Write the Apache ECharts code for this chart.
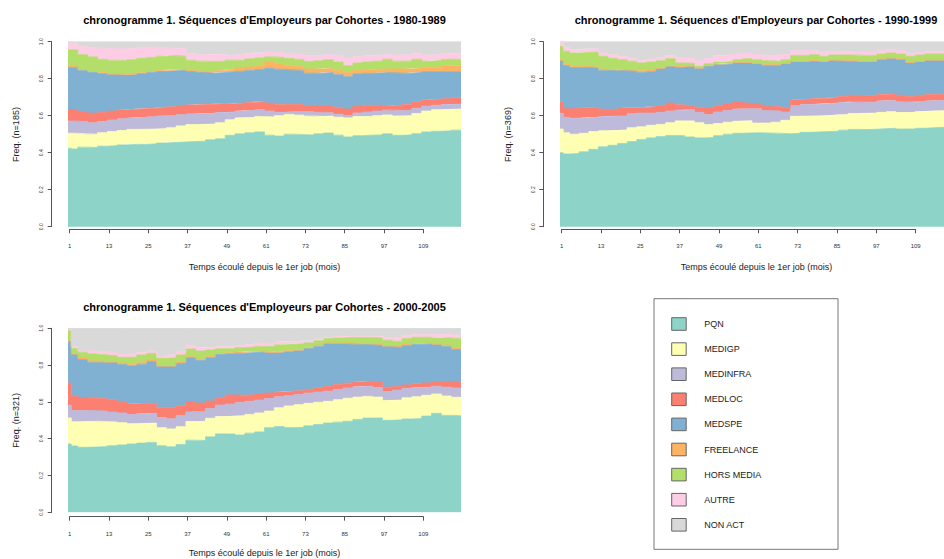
<!DOCTYPE html>
<html><head><meta charset="utf-8">
<script src="https://cdn.jsdelivr.net/npm/echarts@6/dist/echarts.min.js"></script>
<style>html,body{margin:0;padding:0;background:#fff}#c{width:944px;height:559px}</style>
</head><body><div id="c"></div>
<script>
// ---- categories / labels ----
const STATES = ['PQN','MEDIGP','MEDINFRA','MEDLOC','MEDSPE','FREELANCE','HORS MEDIA','AUTRE','NON ACT'];
const COLORS = ['#8DD3C7','#FFFFB3','#BEBADA','#FB8072','#80B1D3','#FDB462','#B3DE69','#FCCDE5','#D9D9D9'];
// first month of each period (periods run until the next start; last one ends at month 120)
const MONTHS = [1,2,4,7,10,13,16,19,22,25,28,31,34,37,40,43,46,49,52,55,58,61,64,67,70,73,76,79,82,85,88,91,94,97,100,103,106,109,112,115,118];
const LAST_MONTH = 120;
const TICK_LABELS = ['1','13','25','37','49','61','73','85','97','109'];
const Y_TICKS = ['0.0','0.2','0.4','0.6','0.8','1.0'];
const COHORTS = ['1980-1989','1990-1999','2000-2005'];
const N_SIZES = [185,369,321];
const X_TITLE = 'Temps écoulé depuis le 1er job (mois)';

// ---- state frequencies (%) per period, cohort 1980-1989 ----
const PQN_1980 = [42.4,42.0,43.0,42.8,43.5,43.8,44.2,44.5,44.5,44.8,45.2,45.5,45.8,46.0,46.2,47.0,47.5,49.4,50.2,50.8,51.2,49.5,49.0,50.0,49.8,49.6,50.2,50.6,49.5,48.5,49.2,49.5,49.6,50.2,49.4,49.6,50.3,51.2,51.6,51.8,52.2];
const MEDIGP_1980 = [8.1,8.5,7.2,7.2,7.3,7.6,7.8,8.1,8.2,7.9,7.8,8.0,8.7,9.2,9.1,8.5,8.7,8.4,8.6,8.2,8.4,9.8,11.0,10.7,10.5,10.2,9.4,9.2,9.7,10.3,10.4,10.1,10.4,10.2,10.4,10.4,10.9,11.3,11.6,11.6,11.4];
const MEDINFRA_1980 = [6.6,6.6,6.6,6.2,6.0,6.3,6.3,6.1,6.3,6.7,6.8,6.5,6.0,5.7,5.7,5.8,5.5,4.2,3.7,3.8,3.6,3.2,1.8,1.3,1.9,2.4,2.2,1.8,1.6,1.2,1.9,2.4,2.5,2.7,3.0,2.8,2.8,2.7,2.4,2.6,2.7];
const MEDLOC_1980 = [6.0,6.0,5.2,5.2,5.0,4.8,4.9,4.8,4.8,4.6,4.5,4.8,4.7,4.9,5.0,4.9,4.8,4.5,4.3,4.4,4.3,4.3,4.2,4.2,3.8,3.2,3.4,3.6,3.7,3.6,3.7,3.6,3.1,2.3,2.8,3.2,3.5,3.4,3.2,3.2,3.4];
const MEDSPE_1980 = [23.1,23.1,22.5,22.1,21.0,19.7,18.8,18.7,19.0,19.5,19.7,19.5,19.4,18.2,17.3,16.8,16.8,17.1,17.2,17.3,17.5,18.8,19.1,18.6,18.5,17.6,17.8,18.1,17.7,17.5,17.3,17.3,17.5,17.9,17.4,17.0,15.8,15.2,15.0,14.6,14.1];
const FREELANCE_1980 = [0.5,0.6,0.4,0.4,0.4,0.3,0.3,0.3,0.4,0.4,0.5,0.5,0.4,0.5,0.8,1.0,1.2,1.2,1.8,1.8,2.0,3.4,3.0,2.2,2.0,2.2,2.2,2.2,2.2,2.2,2.0,2.0,2.0,2.0,2.2,2.2,2.2,2.4,2.4,3.0,3.2];
const HORSMEDIA_1980 = [8.8,8.7,8.1,7.9,7.3,7.5,7.4,7.8,7.8,7.6,7.7,7.7,7.2,5.5,5.4,5.3,5.0,5.2,4.2,4.4,4.2,2.8,3.4,4.0,4.0,4.1,4.5,4.8,4.6,3.7,4.0,4.1,4.4,5.2,4.3,4.3,5.0,3.3,3.6,3.7,3.5];
const AUTRE_1980 = [4.5,3.5,4.5,5.0,6.0,6.2,6.3,6.2,6.0,5.5,4.6,4.0,4.3,3.5,3.5,3.7,3.7,2.5,3.0,3.0,2.8,2.7,2.5,2.5,2.8,3.2,2.8,2.7,3.5,4.0,3.5,3.5,3.3,2.7,3.3,3.5,3.3,3.3,3.2,3.2,3.2];
const NONACT_1980 = [0,1.0,2.5,3.2,3.5,3.8,4.0,3.5,3.0,3.0,3.2,3.5,3.5,6.5,7.0,7.0,6.8,7.5,7.0,6.3,6.0,5.5,6.0,6.5,6.7,7.5,7.5,7.0,7.5,9.0,8.0,7.5,7.2,6.8,7.2,7.0,6.2,7.2,7.0,6.3,6.3];

// ---- cohort 1990-1999 ----
const PQN_1990 = [40.0,39.3,39.6,40.5,41.8,43.2,44.0,45.0,46.0,47.2,48.0,48.7,49.3,49.2,48.5,48.0,48.2,49.2,50.0,50.5,50.7,50.8,50.6,50.5,50.2,50.5,51.0,51.2,51.4,51.6,52.2,52.6,52.5,52.7,53.0,53.2,52.8,52.8,53.2,53.5,53.7];
const MEDIGP_1990 = [12.8,11.5,10.4,10.0,9.6,8.6,8.0,7.3,7.5,6.8,6.8,6.6,6.9,8.0,8.7,8.2,7.0,6.6,6.5,6.5,6.6,5.2,5.4,6.0,7.3,9.2,8.8,8.6,8.6,8.7,8.4,8.6,8.8,8.7,8.8,9.0,8.9,9.0,9.0,9.0,9.0];
const MEDINFRA_1990 = [8.5,8.3,8.6,8.3,7.7,7.7,7.8,7.5,7.5,7.4,6.6,6.5,6.3,5.8,6.0,5.6,5.4,6.2,6.3,6.6,6.5,7.7,6.8,6.0,4.5,5.8,6.2,6.4,6.5,6.5,6.6,6.3,6.0,5.9,6.2,6.0,5.9,5.5,5.4,5.5,5.5];
const MEDLOC_1990 = [6.2,5.0,5.2,5.5,5.4,4.0,3.4,4.3,3.3,3.1,3.4,3.7,4.3,2.9,2.3,2.7,3.5,3.6,3.5,3.8,3.0,2.6,2.4,2.5,2.3,3.1,2.8,3.0,3.0,2.9,3.3,3.5,3.5,3.5,3.4,3.5,3.4,3.2,3.4,3.4,3.4];
const MEDSPE_1990 = [22.1,23.1,22.3,21.8,21.3,21.0,21.1,20.2,19.7,18.9,19.0,19.7,19.7,20.2,21.0,20.9,22.6,22.0,21.6,21.1,21.7,21.6,22.0,22.2,23.6,20.4,20.2,20.2,19.5,20.0,19.0,18.5,18.2,18.2,18.9,19.1,19.3,18.0,18.0,18.3,18.1];
const FREELANCE_1990 = [0.5,0.5,0.5,0.5,0.5,0.6,0.6,0.7,0.8,0.9,0.9,0.7,0.5,0.5,0.4,0.4,0.4,0.4,0.4,0.4,0.4,0.4,0.4,0.4,0.4,0.4,0.4,0.4,0.4,0.4,0.4,0.4,0.4,0.4,0.4,0.4,0.4,0.4,0.4,0.4,0.4];
const HORSMEDIA_1990 = [7.3,7.1,7.3,7.6,8.1,7.0,6.1,5.3,4.7,4.2,4.3,3.8,3.8,1.9,1.4,0.9,1.0,1.0,1.0,1.4,1.9,2.0,2.1,1.8,2.0,3.2,3.2,3.2,2.7,2.7,2.9,2.9,3.2,3.2,2.6,2.7,2.6,3.2,3.4,3.2,3.2];
const AUTRE_1990 = [2.6,2.1,1.8,1.8,1.8,1.8,2.0,1.8,1.5,1.2,1.5,1.8,1.8,3.0,2.9,3.0,2.7,3.6,3.5,3.0,3.1,3.0,2.9,3.2,3.0,2.5,2.5,2.1,2.3,1.8,1.8,1.8,1.8,1.8,1.8,1.8,1.8,1.8,1.6,1.5,1.5];
const NONACT_1990 = [0,3.1,4.3,4.0,3.8,6.1,7.0,7.9,9.0,10.3,9.5,8.5,7.4,8.5,8.8,10.3,9.2,7.4,7.2,6.7,6.1,6.7,7.4,7.4,6.7,4.9,4.9,4.9,5.6,5.4,5.4,5.4,5.6,5.6,4.9,4.3,4.9,6.1,5.6,5.2,5.2];

// ---- cohort 2000-2005 ----
const PQN_2000 = [37.1,36.0,35.3,35.5,35.7,36.2,36.6,37.1,37.6,38.0,36.2,35.6,36.8,39.2,39.0,41.0,42.6,42.5,42.0,43.0,43.7,46.0,46.6,46.0,46.2,47.0,47.7,48.5,49.0,49.5,50.5,51.2,51.3,50.0,50.3,50.7,51.0,52.3,53.8,52.7,52.5];
const MEDIGP_2000 = [14.2,13.2,13.9,14.0,13.6,12.9,12.1,11.0,10.7,10.5,9.8,9.7,9.7,10.1,10.5,10.1,9.4,9.7,10.5,10.2,10.3,9.0,10.2,11.8,12.3,12.2,12.1,11.8,12.2,12.5,12.1,11.8,11.3,10.8,10.7,11.5,11.8,11.3,10.5,10.5,10.0];
const MEDINFRA_2000 = [6.9,6.1,6.1,5.8,5.7,5.4,5.3,5.1,5.3,5.3,5.5,5.5,6.0,5.2,5.2,5.3,6.3,6.6,7.2,7.1,7.0,6.8,6.0,5.6,5.5,5.6,5.6,5.5,5.5,5.6,5.6,5.5,5.2,4.8,5.4,5.2,5.0,4.4,4.2,4.8,5.1];
const MEDLOC_2000 = [12.1,8.2,6.8,7.2,7.0,6.7,6.0,5.8,5.6,5.4,5.5,6.2,5.5,5.5,4.7,4.1,4.1,5.0,3.9,3.5,3.3,3.0,2.6,2.2,2.0,2.0,2.4,2.7,2.7,2.6,2.7,2.7,3.0,2.4,2.0,1.8,2.0,2.3,2.3,2.8,3.2];
const MEDSPE_2000 = [22.6,22.0,20.9,19.0,19.2,20.0,20.3,20.5,21.3,22.8,22.0,22.0,23.0,24.0,23.2,23.5,23.3,22.3,22.9,23.0,22.8,21.8,21.3,21.7,21.8,22.2,22.5,23.0,22.1,21.3,20.3,19.9,20.0,22.0,21.3,21.6,21.4,21.2,20.2,19.5,17.8];
const FREELANCE_2000 = [0.3,0.8,0.8,0.8,0.8,0.8,0.8,0.8,0.8,0.8,0.8,0.8,0.8,0.6,0.6,0.6,0.6,0.6,0.6,0.6,0.6,0.5,0.5,0.5,0.5,0.5,0.5,0.5,0.5,0.5,0.5,0.5,0.5,0.5,0.5,0.5,0.5,0.5,0.5,0.5,0.8];
const HORSMEDIA_2000 = [5.5,2.7,3.2,3.8,3.7,3.3,3.1,4.0,4.2,3.6,3.9,4.2,3.7,4.1,4.4,3.6,2.6,2.2,2.4,2.4,2.5,2.9,3.8,3.5,3.3,2.5,2.4,2.4,2.8,3.1,3.4,3.5,3.5,3.0,2.8,3.2,3.4,3.1,3.2,4.2,5.2];
const AUTRE_2000 = [1.3,1.0,0.8,1.4,1.6,1.8,1.5,1.8,1.5,1.3,1.3,1.5,1.7,1.8,1.7,1.4,1.3,1.3,1.1,1.4,1.8,1.5,1.5,1.5,1.3,1.2,0.8,0.7,0.7,0.6,0.6,0.6,0.9,1.5,1.8,1.7,1.5,1.5,1.9,1.8,1.8];
const NONACT_2000 = [0,10.0,12.2,12.5,12.7,12.9,14.3,13.9,13.0,12.3,15.0,14.5,12.8,9.5,10.7,10.4,9.8,9.8,9.4,8.8,8.0,8.5,7.5,7.2,7.1,6.8,6.0,4.9,4.5,4.3,4.3,4.3,4.3,5.0,5.2,3.8,3.4,3.4,3.4,3.2,3.6];

const PANEL_DATA = [
  [PQN_1980,MEDIGP_1980,MEDINFRA_1980,MEDLOC_1980,MEDSPE_1980,FREELANCE_1980,HORSMEDIA_1980,AUTRE_1980,NONACT_1980],
  [PQN_1990,MEDIGP_1990,MEDINFRA_1990,MEDLOC_1990,MEDSPE_1990,FREELANCE_1990,HORSMEDIA_1990,AUTRE_1990,NONACT_1990],
  [PQN_2000,MEDIGP_2000,MEDINFRA_2000,MEDLOC_2000,MEDSPE_2000,FREELANCE_2000,HORSMEDIA_2000,AUTRE_2000,NONACT_2000]
];

// ---- layout (pixels) ----
const LAYOUT = [
  {left:68,  top:41.7,  width:393, height:185, axLeft:69.7,  axWidth:353.6, axGap:2.6, yOff:16.3, titleX:264.5, titleY:20,    xTitleY:267, yTitleX:15.5,  yTitleY:134.5},
  {left:560, top:41.7,  width:393, height:185, axLeft:561.7, axWidth:354,   axGap:2.6, yOff:16.7, titleX:756,   titleY:20,    xTitleY:267, yTitleX:507.5, yTitleY:134.5},
  {left:68,  top:328.3, width:393, height:184, axLeft:69.7,  axWidth:353.6, axGap:4.4, yOff:16.3, titleX:264.5, titleY:306.7, xTitleY:553, yTitleX:15.5,  yTitleY:420.3}
];
const FONT = 'Liberation Sans, Arial, sans-serif';
const AXIS_COL = '#555';

const grid = [], xAxis = [], yAxis = [], series = [], graphic = [];
LAYOUT.forEach((L, p) => {
  grid.push({left:L.left, top:L.top, width:L.width, height:L.height});
  // month axis (time type so that the frequency dimension is the stacked one)
  xAxis.push({gridIndex:p, type:'time', min:MONTHS[0]-0.5, max:LAST_MONTH+0.5, show:false});
  yAxis.push({gridIndex:p, type:'value', min:0, max:100, interval:20, offset:L.yOff,
    axisLine:{show:true, lineStyle:{color:AXIS_COL, width:1}},
    axisTick:{show:true, length:4, lineStyle:{color:AXIS_COL}},
    axisLabel:{rotate:90, fontSize:5, color:'#333', margin:8, fontFamily:FONT,
      formatter:(v)=>Y_TICKS[Math.round(v/20)]},
    splitLine:{show:false}});
});
LAYOUT.forEach((L, p) => {
  const gi = 3 + p;
  grid.push({left:L.axLeft, top:L.top + L.height, width:L.axWidth, height:L.axGap});
  xAxis.push({gridIndex:gi, type:'value', min:0, max:108, interval:12, position:'bottom',
    axisLine:{show:true, onZero:false, lineStyle:{color:AXIS_COL, width:1}},
    axisTick:{show:true, length:4, lineStyle:{color:AXIS_COL}},
    axisLabel:{fontSize:6, color:'#333', margin:14, fontFamily:FONT,
      formatter:(v)=>TICK_LABELS[Math.round(v/12)]},
    splitLine:{show:false}});
  yAxis.push({gridIndex:gi, type:'value', min:0, max:1, show:false});
});

PANEL_DATA.forEach((arrs, p) => {
  arrs.forEach((arr, s) => {
    const data = MONTHS.map((m, i) => [m - 0.5, arr[i]]);
    data.push([LAST_MONTH + 0.5, arr[arr.length - 1]]);
    series.push({
      name: STATES[s], type:'line', xAxisIndex:p, yAxisIndex:p, stack:'cohort'+p,
      step:'end', symbol:'none', silent:true, animation:false,
      lineStyle:{width:0.8, color:COLORS[s]},
      areaStyle:{color:COLORS[s], opacity:1},
      itemStyle:{color:COLORS[s]},
      data
    });
  });
});

LAYOUT.forEach((L, p) => {
  graphic.push({type:'text', x:L.titleX, y:L.titleY, silent:true,
    style:{text:'chronogramme 1. Séquences d\'Employeurs par Cohortes - ' + COHORTS[p],
      font:'bold 11px ' + FONT, fill:'#000', align:'center', verticalAlign:'middle', textAlign:'center', textVerticalAlign:'middle'}});
  graphic.push({type:'text', x:L.left + L.width/2, y:L.xTitleY, silent:true,
    style:{text:X_TITLE, font:'9px ' + FONT, fill:'#222', align:'center', verticalAlign:'middle', textAlign:'center', textVerticalAlign:'middle'}});
  graphic.push({type:'text', x:L.yTitleX, y:L.yTitleY, rotation:Math.PI/2, silent:true,
    style:{text:'Freq. (n=' + N_SIZES[p] + ')', font:'9px ' + FONT, fill:'#222', align:'center', verticalAlign:'middle', textAlign:'center', textVerticalAlign:'middle'}});
});

// legend box
graphic.push({type:'rect', shape:{x:654, y:298.7, width:184, height:250.6}, silent:true,
  style:{fill:'#fff', stroke:'#777', lineWidth:1}});
STATES.forEach((st, i) => {
  const cy = 324 + 25.1*i;
  graphic.push({type:'rect', shape:{x:671.7, y:cy-6.3, width:14.5, height:12.6}, silent:true,
    style:{fill:COLORS[i], stroke:'#666', lineWidth:1}});
  graphic.push({type:'text', x:704.3, y:cy, silent:true,
    style:{text:st, font:'9px ' + FONT, fill:'#222', align:'left', verticalAlign:'middle', textAlign:'left', textVerticalAlign:'middle'}});
});

const chart = echarts.init(document.getElementById('c'), null, {renderer:'svg', width:944, height:559});
chart.setOption({
  animation:false,
  backgroundColor:'#fff',
  textStyle:{fontFamily:FONT},
  grid, xAxis, yAxis, series, graphic
});
</script></body></html>
